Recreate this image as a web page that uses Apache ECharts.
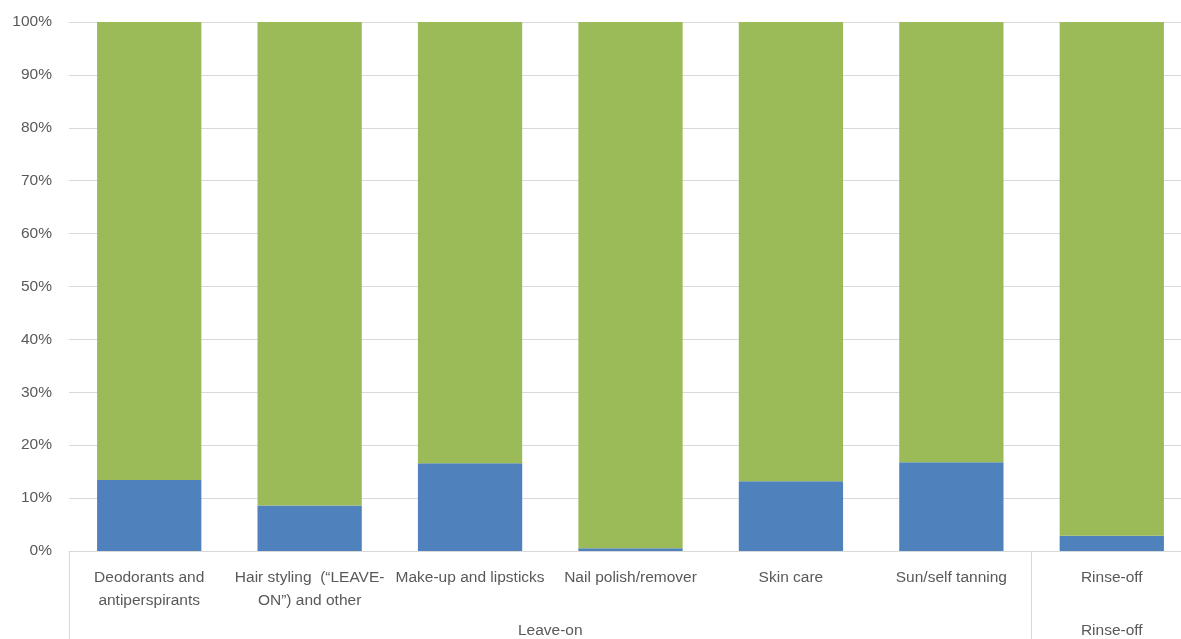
<!DOCTYPE html>
<html>
<head>
<meta charset="utf-8">
<script src="https://cdn.jsdelivr.net/npm/echarts@6/dist/echarts.min.js"></script>
<style>
  html, body { margin: 0; padding: 0; background: #fff; overflow: hidden; }
  /* the plot area runs slightly past the right edge of the window */
  #chart { width: 1192px; height: 639px; }
</style>
</head>
<body>
<div id="chart"></div>
<script>
// Product categories (line breaks as shown under the axis)
const categories = [
  'Deodorants and\nantiperspirants',
  'Hair styling  (\u201cLEAVE-\nON\u201d) and other',
  'Make-up and lipsticks',
  'Nail polish/remover',
  'Skin care',
  'Sun/self tanning',
  'Rinse-off'
];
// Outer grouping of the categories: [name, first index, count]
const groups = [
  ['Leave-on', 0, 6],
  ['Rinse-off', 6, 1]
];
// Shares in percent per category
const blueValues = [13.4, 8.6, 16.6, 0.5, 13.2, 16.8, 2.9];
const greenValues = [86.6, 91.4, 83.4, 99.5, 86.8, 83.2, 97.1];
const yTicks = [0, 10, 20, 30, 40, 50, 60, 70, 80, 90, 100];

const textColor = '#595959';
const fontFamily = 'Liberation Sans, Arial, sans-serif';
const fontSize = 15.5;

const groupCenters = groups.map(g => g[1] + g[2] / 2);
const groupEdges = [0].concat(groups.slice(0, -1).map(g => g[1] + g[2]));

const chart = echarts.init(document.getElementById('chart'), null, { renderer: 'canvas' });
chart.setOption({
  animation: false,
  grid: { left: 69, top: 22, right: 0, bottom: 88, outerBoundsMode: 'none' },
  xAxis: [
    {
      type: 'category',
      data: categories,
      axisLine: { show: true, lineStyle: { color: '#D9D9D9', width: 1 } },
      axisTick: { show: false },
      axisLabel: {
        interval: 0,
        color: textColor,
        fontFamily: fontFamily,
        fontSize: fontSize,
        lineHeight: 23,
        margin: 15
      }
    },
    {
      type: 'value',
      position: 'bottom',
      min: 0,
      max: categories.length,
      splitLine: { show: false },
      axisLine: { show: false },
      axisTick: {
        show: true,
        customValues: groupEdges,
        length: 90,
        lineStyle: { color: '#D9D9D9', width: 1 }
      },
      axisLabel: {
        customValues: groupCenters,
        color: textColor,
        fontFamily: fontFamily,
        fontSize: fontSize,
        margin: 72,
        formatter: function (v) {
          const idx = groupCenters.findIndex(c => Math.abs(c - v) < 1e-6);
          return idx >= 0 ? groups[idx][0] : '';
        }
      }
    }
  ],
  yAxis: {
    type: 'value',
    min: 0,
    max: 100,
    interval: 10,
    axisLine: { show: false },
    axisTick: { show: false },
    splitLine: { lineStyle: { color: '#D9D9D9', width: 1 } },
    axisLabel: {
      color: textColor,
      fontFamily: fontFamily,
      fontSize: fontSize,
      margin: 17,
      customValues: yTicks,
      formatter: v => v + '%'
    }
  },
  series: [
    {
      type: 'bar',
      stack: 'share',
      barWidth: '65%',
      data: blueValues,
      itemStyle: { color: '#4F81BD' }
    },
    {
      type: 'bar',
      stack: 'share',
      barWidth: '65%',
      data: greenValues,
      itemStyle: { color: '#9BBB59' }
    }
  ]
});
</script>
</body>
</html>
